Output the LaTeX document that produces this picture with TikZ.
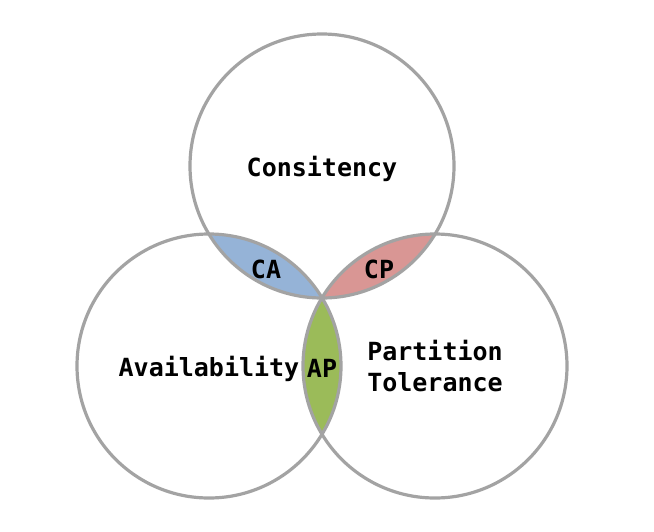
\documentclass[tikz,border=0pt]{standalone}
\usepackage{fontspec}
\setmonofont{DejaVu Sans Mono}
\definecolor{CapGray}{HTML}{A3A3A3}
\definecolor{CapBlue}{HTML}{95B3D7}
\definecolor{CapRed}{HTML}{D99694}
\definecolor{CapGreen}{HTML}{9BBB59}
\newcommand{\capfont}{\ttfamily\bfseries\fontsize{25}{31}\selectfont}
\tikzset{
  capset/.style={
    circle,
    draw=CapGray,
    line width=3.2pt,
    minimum size=264pt,
    inner sep=0pt,
    text depth=0pt,
    align=center,
    font=\capfont
  },
  caplabel/.style={font=\capfont,inner sep=0pt}
}

\begin{document}
\begin{tikzpicture}[x=1pt,y=-1pt]
  \useasboundingbox (0,0) rectangle (654,531);
  \coordinate (cC) at (322,166);
  \coordinate (cA) at (209,366);
  \coordinate (cP) at (435,366);

  % overlap regions
  \begin{scope}
    \clip (cC) circle (132pt);
    \fill[CapBlue] (cA) circle (132pt);
    \fill[CapRed] (cP) circle (132pt);
  \end{scope}
  \begin{scope}
    \clip (cA) circle (132pt);
    \fill[CapGreen] (cP) circle (132pt);
  \end{scope}

  \node[capset] (cons) at (cC) {Consitency};
  \node[capset] (avail) at (cA) {Availability};
  \node[capset,align=left] (part) at (cP) {Partition\\Tolerance};

  \node[caplabel] (ca) at (266,269) {CA};
  \node[caplabel] (cp) at (379,269) {CP};
  \node[caplabel] (ap) at (322,368) {AP};
\end{tikzpicture}
\end{document}
